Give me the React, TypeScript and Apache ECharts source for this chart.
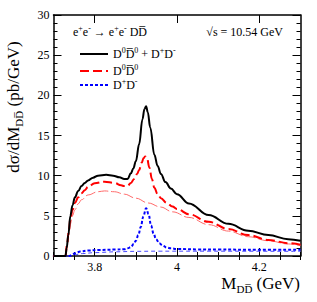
import React, { useEffect, useRef } from "react";
import * as echarts from "echarts";

const FONT = "'Liberation Serif', 'Times New Roman', serif";
const OL = "D\u0305";

// Total D0D0bar + D+D- (black)
const totalMass = [3.7, 3.729, 3.732, 3.736, 3.741, 3.746, 3.752, 3.76, 3.768, 3.776, 3.784, 3.796, 3.808, 3.828, 3.845, 3.86, 3.872, 3.88, 3.888, 3.894, 3.9, 3.908, 3.916, 3.921, 3.925, 3.929, 3.935, 3.945, 3.953, 3.961, 3.972, 3.985, 4.0, 4.029, 4.077, 4.125, 4.173, 4.222, 4.27, 4.3];
const totalXsec = [0, 0, 1.0, 2.6, 5.0, 6.3, 7.3, 8.1, 8.7, 9.1, 9.4, 9.75, 10.0, 10.1, 10.0, 9.8, 9.6, 9.6, 10.3, 10.9, 11.8, 13.9, 17.0, 18.3, 18.65, 17.9, 16.0, 12.6, 11.2, 10.2, 9.2, 8.4, 7.7, 6.55, 5.1, 4.0, 3.15, 2.6, 2.1, 1.9];

// D0D0bar (red dashed)
const neutralMass = [3.7, 3.729, 3.733, 3.737, 3.741, 3.746, 3.752, 3.76, 3.768, 3.776, 3.784, 3.8, 3.824, 3.848, 3.864, 3.872, 3.88, 3.888, 3.896, 3.903, 3.908, 3.914, 3.919, 3.923, 3.927, 3.933, 3.939, 3.945, 3.953, 3.961, 3.975, 3.989, 4.0, 4.029, 4.077, 4.125, 4.173, 4.222, 4.27, 4.3];
const neutralXsec = [0, 0, 1.5, 3.0, 4.6, 5.7, 6.6, 7.3, 7.8, 8.2, 8.6, 9.05, 9.25, 9.1, 8.8, 8.7, 8.75, 9.1, 9.6, 10.2, 10.7, 11.6, 12.2, 12.4, 12.2, 11.0, 9.6, 8.5, 7.7, 7.2, 6.6, 6.15, 5.85, 5.2, 4.25, 3.35, 2.6, 2.0, 1.6, 1.4];

// D0D0bar continuum part (thin red)
const neutralBgMass = [3.7, 3.729, 3.733, 3.737, 3.741, 3.746, 3.752, 3.76, 3.768, 3.784, 3.808, 3.824, 3.848, 3.872, 3.9, 3.93, 3.96, 3.989, 4.029, 4.077, 4.125, 4.173, 4.222, 4.27, 4.3];
const neutralBgXsec = [0, 0, 1.3, 2.6, 4.0, 5.0, 5.75, 6.5, 7.0, 7.6, 8.0, 8.1, 8.0, 7.7, 7.2, 6.6, 6.1, 5.5, 4.8, 3.9, 3.1, 2.4, 1.9, 1.5, 1.3];

// D+D- (blue dotted)
const chargedMass = [3.7, 3.739, 3.745, 3.752, 3.765, 3.784, 3.81, 3.85, 3.872, 3.88, 3.888, 3.895, 3.9, 3.906, 3.912, 3.918, 3.925, 3.931, 3.937, 3.943, 3.949, 3.957, 3.965, 3.975, 3.985, 4.0, 4.05, 4.1, 4.2, 4.3];
const chargedXsec = [0, 0, 0.15, 0.33, 0.55, 0.68, 0.75, 0.8, 0.85, 0.95, 1.1, 1.5, 1.9, 2.6, 3.6, 4.9, 5.95, 5.2, 3.8, 2.8, 2.1, 1.6, 1.3, 1.05, 0.95, 0.88, 0.82, 0.8, 0.78, 0.78];

// D+D- continuum part (thin blue dashed)
const chargedBgMass = [3.7, 3.739, 3.75, 3.77, 3.8, 3.85, 3.9, 3.95, 4.05, 4.3];
const chargedBgXsec = [0, 0, 0.15, 0.3, 0.42, 0.52, 0.58, 0.6, 0.6, 0.58];

const xMajorTicks = [3.8, 4.0, 4.2];
const xMinorTicks = [3.7, 3.75, 3.85, 3.9, 3.95, 4.05, 4.1, 4.15, 4.25, 4.3];

const zip = (x: number[], y: number[]) => x.map((v, i) => [v, y[i]]);

const legendLabels: Record<string, string> = {
  total: `D{sup|0}${OL}{sup|0} + D{sup|+}D{sup|-}`,
  neutral: `D{sup|0}${OL}{sup|0}`,
  charged: `D{sup|+}D{sup|-}`,
};

export default function App() {
  const ref = useRef<HTMLDivElement>(null);
  useEffect(() => {
    const chart = echarts.init(ref.current!, null, { renderer: "svg" });
    const axisLine = { show: true, onZero: false, lineStyle: { color: "#000", width: 1.5 } };
    const tickStyle = { color: "#000", width: 1 };
    const xBase = { type: "value", min: 3.7, max: 4.3, splitLine: { show: false }, gridIndex: 0 };
    const rich = {
      sup: { fontSize: 8, verticalAlign: "top", fontFamily: FONT, color: "#000" },
      sub: { fontSize: 8, verticalAlign: "bottom", fontFamily: FONT, color: "#000" },
    };
    const bigRich = {
      sub: { fontSize: 11, verticalAlign: "bottom", fontFamily: FONT, color: "#000" },
    };
    const mkLegend = (name: string, top: number) => ({
      data: [name],
      left: 74,
      top,
      itemWidth: 28,
      itemHeight: 12,
      selectedMode: false,
      itemStyle: { opacity: 0 },
      formatter: (n: string) => legendLabels[n],
      textStyle: { fontFamily: FONT, fontSize: 12, color: "#000", lineHeight: 16, rich },
    });
    chart.setOption({
      animation: false,
      grid: { left: 53.5, right: 16.5, top: 15, bottom: 46 },
      xAxis: [
        {
          ...xBase,
          position: "bottom",
          axisLine,
          axisTick: { show: true, inside: true, length: 8, customValues: xMajorTicks, lineStyle: tickStyle },
          axisLabel: {
            customValues: xMajorTicks,
            formatter: (v: number) => String(+v.toFixed(2)),
            fontFamily: FONT, fontSize: 12, color: "#000", margin: 5,
          },
        },
        {
          ...xBase,
          position: "bottom",
          axisLine: { show: false },
          axisTick: { show: true, inside: true, length: 4, customValues: xMinorTicks, lineStyle: tickStyle },
          axisLabel: { show: false },
        },
        {
          ...xBase,
          position: "top",
          axisLine,
          axisTick: { show: true, inside: true, length: 8, customValues: xMajorTicks, lineStyle: tickStyle },
          axisLabel: { show: false },
        },
        {
          ...xBase,
          position: "top",
          axisLine: { show: false },
          axisTick: { show: true, inside: true, length: 4, customValues: xMinorTicks, lineStyle: tickStyle },
          axisLabel: { show: false },
        },
      ],
      yAxis: [
        {
          type: "value", min: 0, max: 30, interval: 5, position: "left",
          axisLine,
          axisTick: { show: true, inside: true, length: 8, lineStyle: tickStyle },
          minorTick: { show: true, splitNumber: 5, length: 4, lineStyle: tickStyle },
          axisLabel: { fontFamily: FONT, fontSize: 12, color: "#000", margin: 4 },
          splitLine: { show: false },
        },
        {
          type: "value", min: 0, max: 30, interval: 5, position: "right",
          axisLine,
          axisTick: { show: true, inside: true, length: 8, lineStyle: tickStyle },
          minorTick: { show: true, splitNumber: 5, length: 4, lineStyle: tickStyle },
          axisLabel: { show: false },
          splitLine: { show: false },
        },
      ],
      legend: [mkLegend("total", 41), mkLegend("neutral", 58), mkLegend("charged", 72)],
      series: [
        {
          name: "neutralBg", type: "line", data: zip(neutralBgMass, neutralBgXsec), symbol: "none",
          smooth: 0.4, smoothMonotone: "x", lineStyle: { color: "#ff6a6a", width: 1, type: [10, 3] }, z: 1,
        },
        {
          name: "chargedBg", type: "line", data: zip(chargedBgMass, chargedBgXsec), symbol: "none",
          smooth: 0.4, smoothMonotone: "x", lineStyle: { color: "#4a4aff", width: 1, type: [4, 3] }, z: 1,
        },
        {
          name: "charged", type: "line", data: zip(chargedMass, chargedXsec), symbol: "none",
          smooth: 0.4, smoothMonotone: "x", lineStyle: { color: "#0000ff", width: 2, type: [3, 2] }, z: 2,
        },
        {
          name: "neutral", type: "line", data: zip(neutralMass, neutralXsec), symbol: "none",
          smooth: 0.4, smoothMonotone: "x", lineStyle: { color: "#ff0000", width: 2, type: [9, 4] }, z: 3,
        },
        {
          name: "total", type: "line", data: zip(totalMass, totalXsec), symbol: "none",
          smooth: 0.4, smoothMonotone: "x", lineStyle: { color: "#000000", width: 2 }, z: 4,
        },
      ],
      graphic: [
        {
          type: "text", left: 73, top: 24,
          style: {
            text: `e{sup|+}e{sup|-} \u2192 e{sup|+}e{sup|-} D${OL}`,
            fontFamily: FONT, fontSize: 12, fill: "#000", lineHeight: 16, rich,
          },
        },
        {
          type: "text", right: 34, top: 24,
          style: {
            text: "\u221As = 10.54 GeV",
            fontFamily: FONT, fontSize: 12, fill: "#000", lineHeight: 16,
          },
        },
        {
          type: "text", x: 300, y: 283,
          style: {
            text: `M{sub|D${OL}} (GeV)`, align: "right", verticalAlign: "middle",
            fontFamily: FONT, fontSize: 17, fill: "#000", lineHeight: 22, rich: bigRich,
          },
        },
        {
          type: "text", x: 13, y: 107, rotation: Math.PI / 2,
          style: {
            text: `d\u03C3/dM{sub|D${OL}} (pb/GeV)`, align: "center", verticalAlign: "middle",
            fontFamily: FONT, fontSize: 17, fill: "#000", lineHeight: 22, rich: bigRich,
          },
        },
      ],
    });
    return () => chart.dispose();
  }, []);
  return <div ref={ref} style={{ position: "absolute", left: 0, top: 0, width: 317, height: 302 }} />;
}
